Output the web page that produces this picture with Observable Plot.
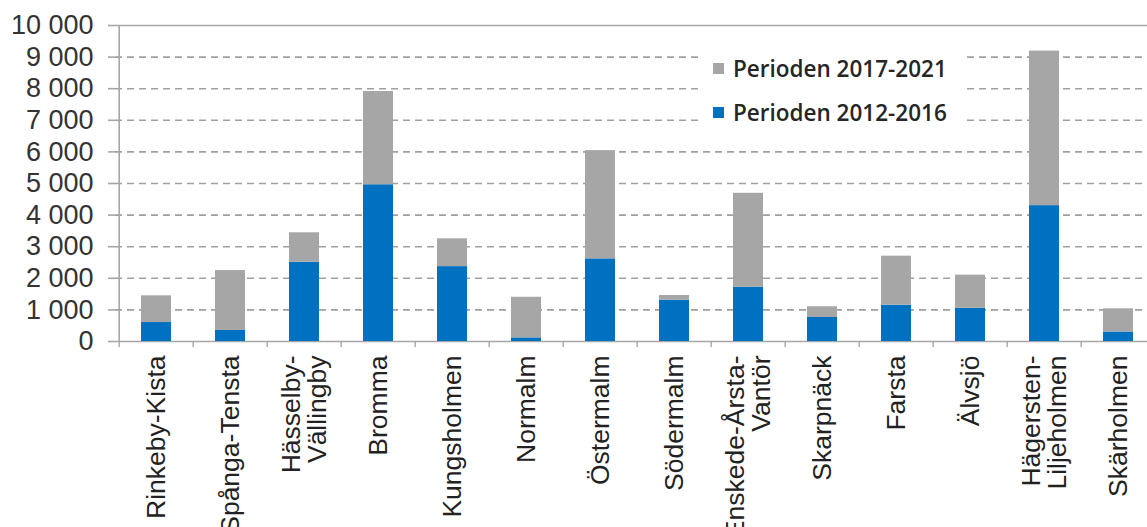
<!DOCTYPE html>
<html>
<head>
<meta charset="utf-8">
<script src="https://cdn.jsdelivr.net/npm/d3@7"></script>
<script src="https://cdn.jsdelivr.net/npm/@observablehq/plot@0.6"></script>
<style>
  html, body { margin: 0; padding: 0; background: #fff; overflow: hidden; }
  #wrap { position: relative; width: 1147px; height: 527px; }
  #legend { position: absolute; left: 698px; top: 42px; width: 265px; height: 84px; background: #fff;
    font-family: "Open Sans", sans-serif; font-weight: 600; font-size: 22.5px; color: #262626; }
  .item { position: absolute; left: 15px; display: flex; align-items: center; white-space: nowrap; }
  .sw { width: 11px; height: 11px; margin-right: 9px; }
</style>
</head>
<body>
<div id="wrap"></div>
<script>
const districts = ["Rinkeby-Kista", "Spånga-Tensta", "Hässelby-\nVällingby", "Bromma", "Kungsholmen", "Normalm", "Östermalm", "Södermalm", "Enskede-Årsta-\nVantör", "Skarpnäck", "Farsta", "Älvsjö", "Hägersten-\nLiljeholmen", "Skärholmen"];
const period2012 = [600, 350, 2510, 4960, 2370, 115, 2615, 1310, 1720, 760, 1150, 1050, 4300, 300];
const period2017 = [846, 1895, 930, 2950, 880, 1285, 3425, 145, 2970, 340, 1550, 1050, 4890, 735];
const seriesNames = ["Perioden 2012-2016", "Perioden 2017-2021"];
const seriesColors = ["#0070C0", "#A6A6A6"];
const yTicks = [0, 1000, 2000, 3000, 4000, 5000, 6000, 7000, 8000, 9000, 10000];

const rows = [];
districts.forEach((d, i) => rows.push({district: d, period: seriesNames[0], value: period2012[i]}));
districts.forEach((d, i) => rows.push({district: d, period: seriesNames[1], value: period2017[i]}));

const W = 1147, H = 527, mL = 115, mT = 25, mB = 186;
const xRange = [115, 1159.4];
const pInner = 0.59;
const step = (xRange[1] - xRange[0]) / districts.length;
const plotH = H - mT - mB;
const fmt = d => d3.format(",")(d).replace(/,/g, " ");
const axisColor = "#a6a6a6";

const chart = Plot.plot({
  width: W, height: H,
  marginLeft: mL, marginRight: 0, marginTop: mT, marginBottom: mB,
  style: {fontFamily: "'Liberation Sans', Arial, sans-serif", background: "#fff", overflow: "visible"},
  x: {domain: districts, range: xRange, paddingInner: pInner, paddingOuter: pInner / 2, axis: null, label: null},
  y: {domain: [0, 10000], axis: null, label: null},
  color: {domain: seriesNames, range: seriesColors},
  marks: [
    Plot.ruleY(yTicks.filter(v => v > 0 && v < 10000), {y: d => d, stroke: "#a0a0a0", strokeWidth: 1.6, strokeDasharray: "7,5"}),
    Plot.ruleY([0, 10000], {y: d => d, stroke: axisColor, strokeWidth: 1.6}),
    Plot.barY(rows, {x: "district", y: "value", fill: "period", order: seriesNames}),
    Plot.ruleX([districts[0]], {x: d => d, dx: -step / 2, stroke: axisColor, strokeWidth: 1.6}),
    Plot.ruleX(districts, {x: d => d, dx: -step / 2, insetTop: plotH, insetBottom: -6, stroke: axisColor, strokeWidth: 1.4}),
    Plot.axisY({ticks: yTicks, tickFormat: fmt, tickSize: 7, tickPadding: 15, stroke: axisColor, strokeWidth: 1.6, fontSize: 27, fill: "#333", label: null}),
    Plot.axisX({tickRotate: -90, tickSize: 0, tickPadding: 14, fontSize: 26.5, lineHeight: 1.0, fill: "#222", textAnchor: "end", lineAnchor: "middle", label: null})
  ]
});

const wrap = document.getElementById("wrap");
wrap.appendChild(chart);

const legend = document.createElement("div");
legend.id = "legend";
const legendItems = [[seriesNames[1], seriesColors[1], 11], [seriesNames[0], seriesColors[0], 55]];
legendItems.forEach(([name, color, top]) => {
  const it = document.createElement("div");
  it.className = "item";
  it.style.top = top + "px";
  const sw = document.createElement("span");
  sw.className = "sw";
  sw.style.background = color;
  const t = document.createElement("span");
  t.textContent = name;
  it.appendChild(sw); it.appendChild(t);
  legend.appendChild(it);
});
wrap.appendChild(legend);
</script>
</body>
</html>
